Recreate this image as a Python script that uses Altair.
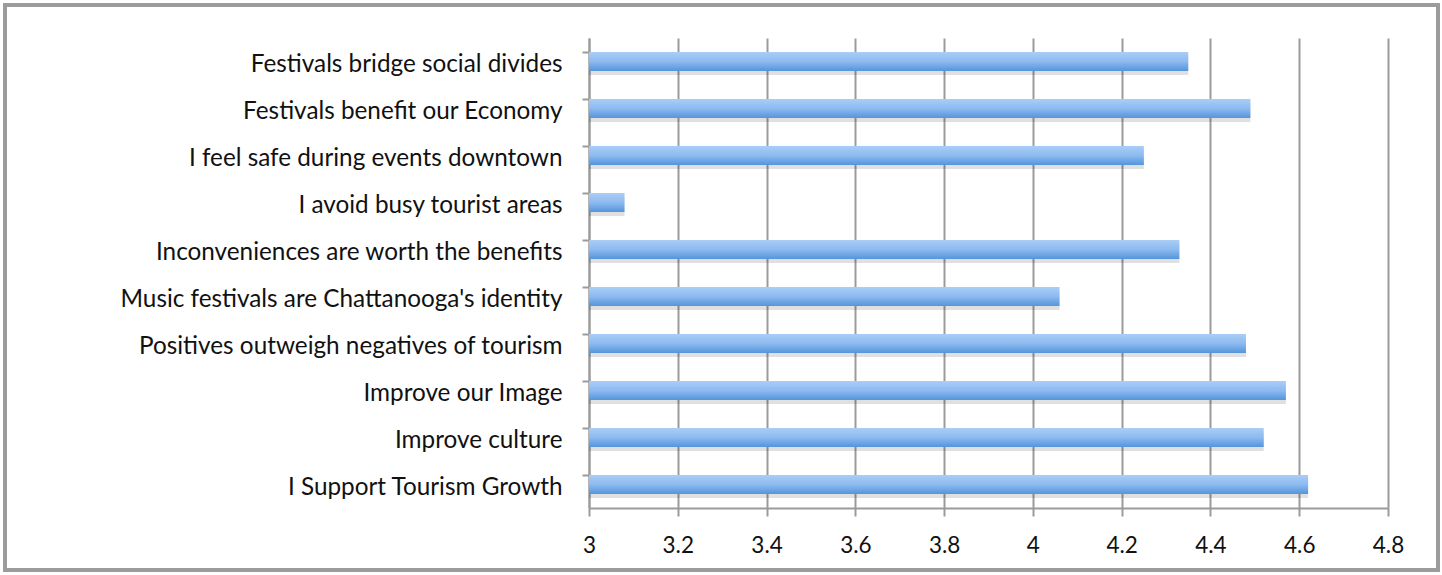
import altair as alt
import pandas as pd

categories = [
    "Festivals bridge social divides",
    "Festivals benefit our Economy",
    "I feel safe during events downtown",
    "I avoid busy tourist areas",
    "Inconveniences are worth the benefits",
    "Music festivals are Chattanooga's identity",
    "Positives outweigh negatives of tourism",
    "Improve our Image",
    "Improve culture",
    "I Support Tourism Growth",
]
values = [4.35, 4.49, 4.25, 3.08, 4.33, 4.06, 4.48, 4.57, 4.52, 4.62]
x_ticks = [3, 3.2, 3.4, 3.6, 3.8, 4, 4.2, 4.4, 4.6, 4.8]

df = pd.DataFrame({"label": categories, "value": values, "base": [3] * len(values)})

FONT = "Lato"
GRAY = "#9b9b9b"

y_enc = alt.Y(
    "label:N",
    sort=categories,
    scale=alt.Scale(paddingInner=0.6, paddingOuter=0.3),
    axis=alt.Axis(
        title=None,
        labelFont=FONT,
        labelFontSize=24.3,
        labelColor="#111111",
        labelPadding=20,
        labelOffset=3,
        tickSize=7,
        tickWidth=2,
        tickColor=GRAY,
        bandPosition=0,
        domainColor=GRAY,
        domainWidth=2,
        grid=False,
        labelLimit=600,
    ),
)
x_enc = alt.X(
    "value:Q",
    scale=alt.Scale(domain=[3, 4.8], nice=False, zero=False),
    axis=alt.Axis(
        title=None,
        values=x_ticks,
        format="~g",
        labelFont=FONT,
        labelFontSize=22.5,
        labelColor="#111111",
        labelPadding=18,
        tickSize=8,
        tickWidth=2,
        tickColor=GRAY,
        domainColor=GRAY,
        domainWidth=2,
        grid=True,
        gridColor=GRAY,
        gridWidth=2,
        labelFlush=False,
    ),
)

gradient = alt.Gradient(
    gradient="linear",
    stops=[
        alt.GradientStop(color="#a9cdf7", offset=0),
        alt.GradientStop(color="#8dbaf0", offset=0.5),
        alt.GradientStop(color="#5595dc", offset=1),
    ],
    x1=0, x2=0, y1=0, y2=1,
)

shadow = alt.Chart(df).mark_bar(color="#000000", opacity=0.12, yOffset=4).encode(
    y=y_enc, x=x_enc, x2="base:Q"
)
bars = alt.Chart(df).mark_bar(color=gradient).encode(
    y=y_enc, x=x_enc, x2="base:Q"
)
frame = alt.Chart(df).mark_rect(
    fill=None, stroke=GRAY, strokeWidth=3, clip=False
).encode(
    x=alt.value(-584), x2=alt.value(849), y=alt.value(-33), y2=alt.value(532)
)

chart = (
    alt.layer(frame, shadow, bars)
    .properties(
        width=799,
        height=470,
        autosize=alt.AutoSizeParams(type="none"),
        padding={"left": 589, "top": 38, "right": 54, "bottom": 67},
        background="white",
    )
    .configure_view(stroke=None)
)

chart.save("out.html", embed_options={"renderer": "svg", "actions": False})
